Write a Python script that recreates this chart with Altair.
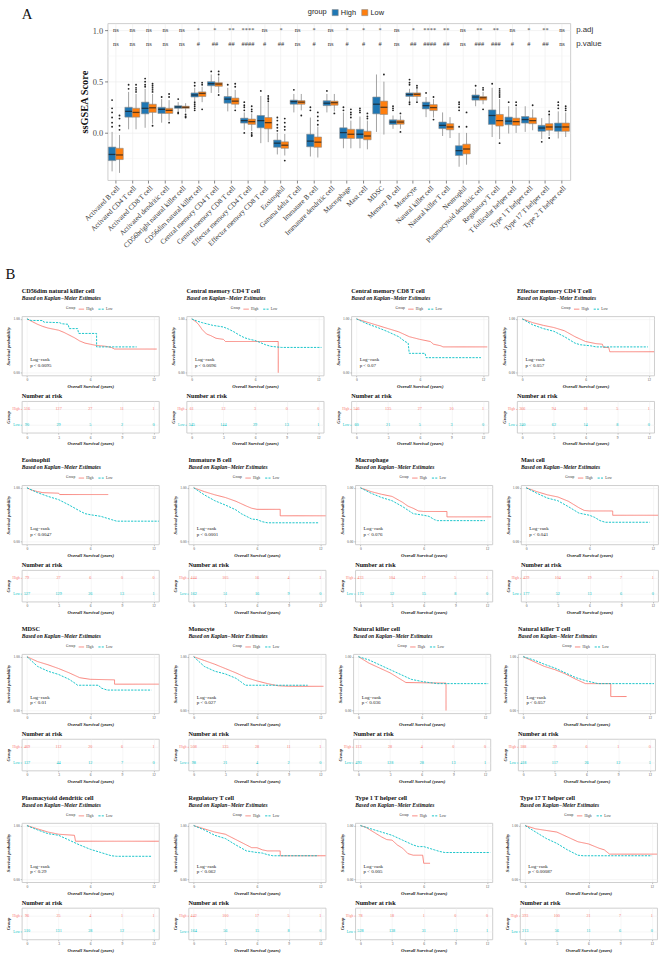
import altair as alt
import pandas as pd

SERIF = "Liberation Serif"
SANS = "Liberation Sans"
BLUE, ORANGE = "#1F77B4", "#FF7F0E"
RED, CYAN = "#F8766D", "#00BFC4"

# ---------------- Panel A: ssGSEA scores by risk group ----------------
cells = ["Activated B cell", "Activated CD4 T cell", "Activated CD8 T cell",
         "Activated dendritic cell", "CD56bright natural killer cell",
         "CD56dim natural killer cell", "Central memory CD4 T cell",
         "Central memory CD8 T cell", "Effector memory CD4 T cell",
         "Effector memory CD8 T cell", "Eosinophil", "Gamma delta T cell",
         "Immature B cell", "Immature dendritic cell", "Macrophage", "Mast cell",
         "MDSC", "Memory B cell", "Monocyte", "Natural killer cell",
         "Natural killer T cell", "Neutrophil", "Plasmacytoid dendritic cell",
         "Regulatory T cell", "T follicular helper cell", "Type 1 T helper cell",
         "Type 17 T helper cell", "Type 2 T helper cell"]

high_q3 = [-0.138, 0.25, 0.30, 0.25, 0.265, 0.39, 0.50, 0.355, 0.144, 0.17, -0.07, 0.32, -0.013, 0.314,
           0.05, 0.035, 0.35, 0.128, 0.39, 0.30, 0.106, -0.125, 0.37, 0.224, 0.154, 0.16, 0.074, 0.096]
high_med = [-0.21, 0.21, 0.24, 0.23, 0.253, 0.37, 0.48, 0.33, 0.12, 0.12, -0.10, 0.305, -0.08, 0.29,
            0.003, -0.013, 0.28, 0.106, 0.375, 0.266, 0.074, -0.173, 0.35, 0.17, 0.115, 0.13, 0.048, 0.058]
high_q1 = [-0.27, 0.154, 0.186, 0.19, 0.24, 0.35, 0.46, 0.29, 0.096, 0.05, -0.14, 0.28, -0.135, 0.266,
           -0.054, -0.054, 0.186, 0.083, 0.356, 0.234, 0.042, -0.22, 0.32, 0.083, 0.08, 0.096, 0.016, 0.016]
high_hi = [0.01, 0.40, 0.43, 0.33, 0.30, 0.44, 0.57, 0.44, 0.20, 0.36, 0.0, 0.38, 0.15, 0.38,
           0.20, 0.16, 0.57, 0.17, 0.43, 0.35, 0.20, 0.0, 0.43, 0.44, 0.26, 0.26, 0.144, 0.21]
high_lo = [-0.375, 0.035, 0.05, 0.10, 0.21, 0.31, 0.39, 0.21, 0.03, -0.10, -0.21, 0.20, -0.23, 0.20,
           -0.15, -0.15, 0.01, 0.04, 0.31, 0.154, -0.03, -0.33, 0.26, -0.04, -0.006, 0.01, -0.06, -0.054]

low_q3 = [-0.15, 0.24, 0.28, 0.24, 0.26, 0.40, 0.49, 0.34, 0.135, 0.15, -0.087, 0.315, -0.04, 0.31,
          0.035, 0.016, 0.31, 0.125, 0.39, 0.276, 0.09, -0.11, 0.355, 0.18, 0.144, 0.147, 0.09, 0.096]
low_med = [-0.215, 0.20, 0.245, 0.22, 0.25, 0.385, 0.477, 0.31, 0.11, 0.10, -0.12, 0.30, -0.09, 0.295,
           -0.013, -0.03, 0.25, 0.106, 0.377, 0.247, 0.058, -0.157, 0.343, 0.12, 0.11, 0.12, 0.058, 0.058]
low_q1 = [-0.26, 0.154, 0.20, 0.19, 0.24, 0.355, 0.455, 0.28, 0.083, 0.04, -0.15, 0.28, -0.14, 0.27,
          -0.054, -0.067, 0.18, 0.085, 0.356, 0.218, 0.03, -0.205, 0.32, 0.067, 0.074, 0.09, 0.026, 0.016]
low_hi = [-0.02, 0.38, 0.38, 0.32, 0.29, 0.45, 0.55, 0.42, 0.19, 0.30, -0.01, 0.38, 0.06, 0.38,
          0.12, 0.12, 0.50, 0.17, 0.43, 0.33, 0.154, 0.0, 0.40, 0.33, 0.25, 0.23, 0.17, 0.20]
low_lo = [-0.39, 0.035, 0.09, 0.12, 0.20, 0.30, 0.39, 0.24, 0.02, -0.09, -0.22, 0.22, -0.24, 0.21,
          -0.15, -0.16, -0.016, 0.04, 0.31, 0.15, -0.05, -0.31, 0.28, -0.06, 0.0, 0.026, -0.03, -0.04]

high_out = [[0.32, 0.24, 0.2, 0.15, 0.1, 0.06], [0.47, 0.43], [0.53, 0.5, 0.47, 0.45], [0.35],
            [0.33, 0.2, 0.19], [0.49, 0.46, 0.3, 0.28, 0.26, 0.24, 0.22], [0.6], [0.47],
            [0.3, 0.27, 0.25, 0.22, 0.0], [0.41], [0.15, 0.12, 0.08, 0.05, 0.02], [0.42],
            [0.25, 0.22], [0.41], [0.25, 0.22], [0.24, 0.22, 0.2], [], [0.26, 0.24, 0.22],
            [0.52, 0.49, 0.47, 0.3, 0.28], [0.39], [], [0.3, 0.28, 0.25, 0.22, 0.06], [0.46],
            [0.48], [0.3], [], [-0.087], [0.3, 0.27, 0.24]]
low_out = [[0.17, 0.14, 0.07, 0.03], [0.47, 0.44, 0.42, 0.40], [0.48, 0.46, 0.44, 0.42, 0.40, 0.07],
           [0.38, 0.35, 0.1], [0.18, 0.16, 0.15], [0.49, 0.47, 0.23], [0.6, 0.57, 0.37],
           [0.48, 0.45, 0.22], [0.26, 0.23, 0.21, 0.0, -0.02, -0.03], [0.36, 0.34, 0.33, 0.31],
           [0.14, 0.1, 0.06, 0.03, -0.27], [0.17], [0.2, 0.16, 0.12, 0.08], [0.19],
           [0.23, 0.2, 0.18, 0.15], [0.19, 0.16, 0.14], [0.57], [0.19, 0.01], [0.46, 0.44, 0.3],
           [0.35, 0.13], [], [0.2, 0.06], [0.44, 0.42, 0.23], [0.43, 0.41, 0.39, 0.37, 0.35, -0.1],
           [0.3, 0.27], [0.27], [0.21, 0.18, -0.05], [0.26, 0.24, 0.22]]

p_adj = ["ns", "ns", "ns", "ns", "ns", "*", "*", "**", "****", "ns", "*", "ns", "*", "ns",
         "*", "*", "*", "ns", "*", "****", "**", "ns", "**", "**", "ns", "*", "**", "ns"]
p_value = ["ns", "ns", "ns", "ns", "ns", "#", "##", "##", "####", "#", "##", "ns", "#", "ns",
           "#", "#", "#", "ns", "##", "####", "##", "ns", "###", "###", "#", "#", "##", "ns"]
row_labels = ["p.adj", "p.value"]
row_levels = [1.0, 0.87]
minor_breaks = [-0.25, 0.25, 0.75]

# ---------------- Panel B: Kaplan-Meier curves (time, survival) ----------------
CD56DIM_HIGH = [(0, 1), (0.5, 0.95), (1, 0.9), (1.5, 0.86), (2, 0.83), (2.5, 0.81), (3, 0.79), (3.5, 0.75),
                (4, 0.7), (4.5, 0.65), (5, 0.59), (5.5, 0.55), (6, 0.53), (6.5, 0.51), (7, 0.5), (7.5, 0.49),
                (8, 0.47), (8.3, 0.44), (12.3, 0.44)]
CD56DIM_LOW = [(0, 1), (0.4, 0.97), (1.5, 0.97), (1.6, 0.94), (3.1, 0.93), (3.3, 0.91), (3.9, 0.9), (4.0, 0.82),
               (4.8, 0.82), (4.9, 0.73), (6.6, 0.73), (6.6, 0.48), (10.4, 0.48)]
CMCD4_HIGH = [(0, 1), (0.3, 0.96), (0.6, 0.91), (1, 0.8), (1.4, 0.72), (1.8, 0.69), (2.3, 0.64), (3.0, 0.62),
              (3.2, 0.58), (8.2, 0.58), (8.2, 0.0)]
CMCD4_LOW = [(0, 1), (0.5, 0.96), (1, 0.93), (2, 0.88), (3, 0.85), (3.5, 0.81), (4, 0.76), (4.5, 0.7), (5, 0.65),
             (5.5, 0.62), (6, 0.6), (6.5, 0.56), (7, 0.52), (7.5, 0.49), (8, 0.48), (8.5, 0.47), (12.3, 0.47)]
CMCD8_HIGH = [(0, 1), (1, 0.94), (2, 0.88), (3, 0.82), (4, 0.76), (5, 0.67), (6, 0.62), (6.5, 0.6), (7, 0.58),
              (7.3, 0.53), (8, 0.5), (8.2, 0.48), (12.4, 0.48)]
CMCD8_LOW = [(0, 1), (1, 0.91), (2, 0.84), (3, 0.76), (4, 0.67), (4.6, 0.58), (4.9, 0.55), (5.0, 0.36),
             (6.5, 0.36), (6.6, 0.28), (11.8, 0.28)]
EMCD4_HIGH = [(0, 1), (1, 0.93), (2, 0.88), (3, 0.84), (4, 0.78), (5, 0.67), (6, 0.58), (7, 0.54), (7.6, 0.53),
              (7.7, 0.47), (8.2, 0.47), (8.3, 0.39), (12.5, 0.39)]
EMCD4_LOW = [(0, 1), (1, 0.89), (2, 0.82), (3, 0.77), (4, 0.67), (5, 0.55), (5.5, 0.52), (6.5, 0.5), (7, 0.48),
             (11.9, 0.48)]
EOS_HIGH = [(0, 1), (0.4, 0.96), (1, 0.93), (1.5, 0.91), (3, 0.9), (3.1, 0.875), (7.7, 0.875)]
EOS_LOW = [(0, 1), (1, 0.91), (2, 0.84), (3, 0.78), (4, 0.68), (5, 0.57), (5.5, 0.52), (6, 0.5), (7, 0.47),
           (7.5, 0.44), (8, 0.41), (8.5, 0.38), (12.5, 0.38)]
IMMB_HIGH = [(0, 1), (1, 0.93), (2, 0.87), (3, 0.82), (4, 0.75), (5, 0.66), (5.5, 0.62), (6, 0.6), (8.2, 0.6),
             (8.2, 0.48), (12.5, 0.48)]
IMMB_LOW = [(0, 1), (1, 0.87), (2, 0.76), (3, 0.68), (4, 0.59), (4.5, 0.52), (5, 0.47), (5.5, 0.42), (6, 0.41),
            (6.5, 0.37), (7, 0.35), (11.8, 0.35)]
MAC_HIGH = [(0, 1), (1, 0.93), (2, 0.88), (3, 0.84), (4, 0.73), (4.5, 0.66), (5, 0.62), (5.5, 0.57), (6, 0.56),
            (8.2, 0.56), (8.2, 0.46), (12.4, 0.46)]
MAC_LOW = [(0, 1), (1, 0.9), (2, 0.82), (3, 0.76), (4, 0.65), (5, 0.52), (6, 0.49), (6.5, 0.47), (7, 0.41),
           (7.3, 0.39), (11.8, 0.39)]
MAST_HIGH = [(0, 1), (1, 0.93), (2, 0.87), (3, 0.83), (4, 0.75), (5, 0.63), (5.5, 0.58), (6, 0.57), (8.2, 0.57),
             (8.2, 0.49), (12.5, 0.49)]
MAST_LOW = [(0, 1), (1, 0.9), (2, 0.81), (3, 0.76), (4, 0.65), (5, 0.53), (6, 0.49), (6.5, 0.45), (7, 0.39),
            (7.5, 0.36), (11.7, 0.36)]
MDSC_HIGH = [(0, 1), (1, 0.91), (2, 0.85), (3, 0.78), (4, 0.7), (5, 0.61), (6, 0.58), (8.3, 0.57), (8.3, 0.49),
             (12.5, 0.49)]
MDSC_LOW = [(0, 1), (1, 0.82), (2, 0.73), (3, 0.67), (4, 0.58), (4.6, 0.5), (4.8, 0.47), (6.8, 0.47), (7.0, 0.42),
            (7.6, 0.38), (11.8, 0.38)]
MONO_HIGH = [(0, 1), (1, 0.93), (2, 0.86), (3, 0.78), (4, 0.7), (5, 0.61), (6, 0.55), (7, 0.5), (7.5, 0.48),
             (8, 0.46), (9, 0.45), (12.3, 0.45)]
MONO_LOW = [(0, 1), (1, 0.82), (2, 0.73), (3, 0.68), (4, 0.6), (4.5, 0.53), (4.9, 0.47), (10.8, 0.47)]
NK_HIGH = [(0, 1), (1, 0.88), (2, 0.79), (3, 0.7), (3.5, 0.64), (4, 0.58), (4.5, 0.52), (8.3, 0.51), (8.3, 0.0)]
NK_LOW = [(0, 1), (1, 0.94), (2, 0.85), (3, 0.76), (4, 0.67), (5, 0.58), (6, 0.54), (6.7, 0.52), (7.5, 0.5),
          (12.3, 0.5)]
NKT_HIGH = [(0, 1), (1, 0.91), (2, 0.82), (3, 0.76), (4, 0.68), (5, 0.58), (5.9, 0.5), (8.3, 0.5), (8.3, 0.26),
            (9.8, 0.26)]
NKT_LOW = [(0, 1), (1, 0.94), (2, 0.86), (3, 0.79), (4, 0.7), (5, 0.61), (6, 0.55), (7.1, 0.5), (12.4, 0.5)]
PDC_HIGH = [(0, 1), (1, 0.94), (2, 0.88), (3, 0.84), (4.5, 0.82), (4.6, 0.71), (12.5, 0.71)]
PDC_LOW = [(0, 1), (1, 0.92), (2, 0.85), (3, 0.82), (4, 0.73), (5, 0.64), (5.5, 0.6), (6, 0.56), (7, 0.5),
           (8, 0.44), (8.5, 0.43), (11.8, 0.43)]
TREG_HIGH = [(0, 1), (1, 0.94), (2, 0.88), (3, 0.84), (4, 0.74), (5, 0.64), (5.5, 0.59), (6, 0.59), (6.5, 0.55),
             (7, 0.53), (8.2, 0.53), (8.2, 0.44), (12.5, 0.44)]
TREG_LOW = [(0, 1), (1, 0.92), (2, 0.82), (3, 0.76), (4, 0.64), (5, 0.53), (6, 0.5), (6.5, 0.49), (7, 0.46),
            (7.5, 0.44), (11.8, 0.44)]
TH1_HIGH = [(0, 1), (0.5, 0.97), (1, 0.91), (1.5, 0.85), (2, 0.79), (2.5, 0.74), (3, 0.73), (3.5, 0.64),
            (4, 0.58), (4.5, 0.48), (5, 0.45), (5.9, 0.45), (6.0, 0.3), (6.6, 0.3)]
TH1_LOW = [(0, 1), (1, 0.94), (2, 0.88), (3, 0.82), (4, 0.73), (5, 0.64), (5.5, 0.61), (6, 0.61), (7, 0.55),
           (7.5, 0.52), (8, 0.5), (12.3, 0.5)]
TH17_HIGH = [(0, 1), (1, 0.94), (2, 0.91), (3, 0.88), (4, 0.79), (5, 0.7), (6, 0.66), (7, 0.58), (7.5, 0.55),
             (8, 0.47), (12.5, 0.47)]
TH17_LOW = [(0, 1), (1, 0.88), (2, 0.76), (3, 0.67), (4, 0.55), (5, 0.45), (5.5, 0.44), (12, 0.44)]

risk_times = [0, 3, 6, 9, 12]
km_panels = [
    ("CD56dim natural killer cell", CD56DIM_HIGH, CD56DIM_LOW, "p < 0.0095", [516, 127, 27, 11, 1], [90, 29, 5, 2, 0]),
    ("Central memory CD4 T cell", CMCD4_HIGH, CMCD4_LOW, "p < 0.0096", [61, 12, 3, 0, 0], [545, 144, 29, 13, 1]),
    ("Central memory CD8 T cell", CMCD8_HIGH, CMCD8_LOW, "p < 0.07", [546, 135, 27, 10, 1], [60, 21, 5, 3, 0]),
    ("Effector memory CD4 T cell", EMCD4_HIGH, EMCD4_LOW, "p < 0.057", [366, 94, 18, 5, 1], [240, 62, 14, 8, 0]),
    ("Eosinophil", EOS_HIGH, EOS_LOW, "p < 0.0047", [79, 27, 6, 0, 0], [527, 129, 26, 13, 1]),
    ("Immature B cell", IMMB_HIGH, IMMB_LOW, "p < 0.0001", [444, 105, 16, 4, 1], [162, 51, 16, 9, 0]),
    ("Macrophage", MAC_HIGH, MAC_LOW, "p < 0.076", [433, 104, 17, 5, 1], [173, 52, 15, 8, 0]),
    ("Mast cell", MAST_HIGH, MAST_LOW, "p < 0.041", [429, 104, 19, 7, 1], [177, 52, 13, 6, 0]),
    ("MDSC", MDSC_HIGH, MDSC_LOW, "p < 0.01", [469, 112, 20, 6, 1], [137, 44, 12, 7, 0]),
    ("Monocyte", MONO_HIGH, MONO_LOW, "p < 0.027", [508, 135, 28, 11, 1], [98, 21, 4, 2, 0]),
    ("Natural killer cell", NK_HIGH, NK_LOW, "p < 0.036", [113, 28, 4, 0, 0], [493, 128, 28, 13, 1]),
    ("Natural killer T cell", NKT_HIGH, NKT_LOW, "p < 0.057", [188, 39, 6, 1, 0], [418, 117, 26, 12, 1]),
    ("Plasmacytoid dendritic cell", PDC_HIGH, PDC_LOW, "p < 0.29", [96, 25, 4, 1, 1], [510, 131, 28, 12, 0]),
    ("Regulatory T cell", TREG_HIGH, TREG_LOW, "p < 0.062", [442, 100, 17, 5, 1], [164, 56, 15, 8, 0]),
    ("Type 1 T helper cell", TH1_HIGH, TH1_LOW, "p < 0.005", [78, 18, 1, 0, 0], [528, 138, 31, 13, 1]),
    ("Type 17 T helper cell", TH17_HIGH, TH17_LOW, "p < 0.00087", [393, 100, 21, 7, 1], [213, 56, 11, 6, 0]),
]

# ======================= Panel A =======================
box_rows, out_rows = [], []
for i, c in enumerate(cells):
    box_rows.append(dict(cell=c, group="High", q1=high_q1[i], med=high_med[i], q3=high_q3[i],
                         lo=high_lo[i], hi=high_hi[i]))
    box_rows.append(dict(cell=c, group="Low", q1=low_q1[i], med=low_med[i], q3=low_q3[i],
                         lo=low_lo[i], hi=low_hi[i]))
    for v in high_out[i]:
        out_rows.append(dict(cell=c, group="High", v=v))
    for v in low_out[i]:
        out_rows.append(dict(cell=c, group="Low", v=v))
box_df = pd.DataFrame(box_rows)
out_df = pd.DataFrame(out_rows)
ann_df = pd.DataFrame(
    [dict(cell=c, yv=row_levels[0], label=p_adj[i]) for i, c in enumerate(cells)] +
    [dict(cell=c, yv=row_levels[1], label=p_value[i]) for i, c in enumerate(cells)])
side_df = pd.DataFrame(dict(yv=row_levels, label=row_labels))
minor_df = pd.DataFrame(dict(yv=minor_breaks))

A_W, A_H = 469, 159
y_scale = alt.Scale(domain=[-0.46, 1.07], nice=False, zero=False)
x_enc = alt.X("cell:N", sort=cells, title=None,
              scale=alt.Scale(paddingInner=0.1, paddingOuter=0.05),
              axis=alt.Axis(labelAngle=-45, labelAlign="right", labelBaseline="top",
                            labelFont=SERIF, labelFontSize=7.2, labelColor="#333333",
                            labelLimit=300, labelPadding=1, tickSize=3, tickColor="#333333",
                            tickWidth=0.6, domain=False, grid=True, gridColor="#EBEBEB",
                            gridWidth=0.6))
xo_enc = alt.XOffset("group:N", sort=["High", "Low"], scale=alt.Scale(paddingInner=0.0))
y_axis = alt.Axis(values=[0, 0.5, 1.0], format=".1f", title="ssGSEA Score",
                  titleFont=SERIF, titleFontSize=10.5, titleFontWeight="bold", titleColor="#111",
                  titlePadding=3, labelFont=SERIF, labelFontSize=8.5, labelColor="#4D4D4D",
                  tickSize=3, tickColor="#333333", tickWidth=0.6, labelPadding=2, domain=False,
                  grid=True, gridColor="#EBEBEB", gridWidth=0.6)

minor = alt.Chart(minor_df).mark_rule(color="#F3F3F3", strokeWidth=0.5).encode(
    y=alt.Y("yv:Q", scale=y_scale, axis=y_axis))
whisk = alt.Chart(box_df).mark_rule(color="#8A8A8A", strokeWidth=0.8).encode(
    x=x_enc, xOffset=xo_enc, y=alt.Y("lo:Q", scale=y_scale), y2="hi:Q")
boxes = alt.Chart(box_df).mark_bar(stroke="#8A8A8A", strokeWidth=0.6).encode(
    x=x_enc, xOffset=xo_enc, y=alt.Y("q1:Q", scale=y_scale), y2="q3:Q",
    color=alt.Color("group:N", scale=alt.Scale(domain=["High", "Low"], range=[BLUE, ORANGE]),
                    legend=alt.Legend(title="group", orient="none", legendX=290, legendY=-15,
                                      direction="horizontal", titleOrient="left",
                                      titleFont=SANS, titleFontSize=7.5, titleFontWeight="normal",
                                      titleColor="#222", labelFont=SANS, labelFontSize=7.5,
                                      labelColor="#222", symbolType="square", symbolSize=38,
                                      symbolStrokeColor="#8A8A8A", symbolStrokeWidth=0.6,
                                      columnPadding=4, titlePadding=4, labelOffset=2, padding=0)))
medians = alt.Chart(box_df).mark_tick(color="#1A1A1A", thickness=1.3, size=7).encode(
    x=x_enc, xOffset=xo_enc, y=alt.Y("med:Q", scale=y_scale))
outs = alt.Chart(out_df).mark_circle(size=3.5, color="#222222", opacity=1).encode(
    x=x_enc, xOffset=xo_enc, y=alt.Y("v:Q", scale=y_scale))
ann = alt.Chart(ann_df).mark_text(font=SERIF, fontSize=6.5, color="#333333").encode(
    x=x_enc, y=alt.Y("yv:Q", scale=y_scale), text="label:N")
side = alt.Chart(side_df).mark_text(font=SANS, fontSize=8, color="#333333", align="left").encode(
    x=alt.value(A_W + 6), y=alt.Y("yv:Q", scale=y_scale), text="label:N")

panel_a = alt.layer(minor, whisk, boxes, medians, outs, ann, side).properties(width=A_W, height=A_H)

# left margin column of panel A, carrying the panel letter
tag_a = alt.Chart(pd.DataFrame(dict(label=["A"]))).mark_text(
    font=SERIF, fontSize=15, color="#111", align="left", baseline="top").encode(
    x=alt.value(0), y=alt.value(-16), text="label:N").properties(
    width=56, height=1, view=alt.ViewBackground(stroke="transparent"))
row_a = alt.hconcat(tag_a, panel_a, spacing=0)

# ======================= Panel B =======================
KM_W, KM_H, RISK_H = 139, 60, 32
km_x_scale = alt.Scale(domain=[-0.5, 12.5], nice=False, zero=False)
group_color = alt.Scale(domain=["High", "Low"], range=[RED, CYAN])
lab_col = {"condition": {"test": "datum.value === 'High'", "value": RED}, "value": CYAN}


def km_x_axis():
    return alt.Axis(values=risk_times, format="d", title="Overall Survival (years)",
                    titleFont=SERIF, titleFontSize=4.8, titleFontWeight="bold",
                    titleFontStyle="italic", titleColor="#222", titlePadding=2,
                    labelFont=SERIF, labelFontSize=3.6, labelColor="#555", labelPadding=1,
                    tickSize=1.5, tickColor="#888", tickWidth=0.5, domain=False,
                    grid=True, gridColor="#EDEDED", gridWidth=0.5)


def km_legend():
    return alt.Legend(title="Group", orient="none", legendX=45, legendY=-11,
                      direction="horizontal", titleOrient="left", titleFont=SERIF,
                      titleFontSize=3.6, titleFontWeight="normal", titleColor="#333",
                      labelFont=SERIF, labelFontSize=3.6, labelColor="#333",
                      symbolType="stroke", symbolSize=30, symbolStrokeWidth=0.9,
                      columnPadding=2, titlePadding=2, labelOffset=1.5, padding=0)


def own_legends(ch):
    return ch.resolve_legend(color="independent", strokeDash="independent")


def km_cell(name, high, low, ptxt, risk_high, risk_low):
    rows = [dict(group="High", t=t, s=s, k=j) for j, (t, s) in enumerate(high)]
    rows += [dict(group="Low", t=t, s=s, k=j) for j, (t, s) in enumerate(low)]
    cdf = pd.DataFrame(rows)
    lines = alt.Chart(cdf).mark_line(strokeWidth=0.9).encode(
        x=alt.X("t:Q", scale=km_x_scale, axis=km_x_axis()),
        y=alt.Y("s:Q", scale=alt.Scale(domain=[-0.05, 1.05], nice=False, zero=False),
                axis=alt.Axis(values=[0, 0.25, 0.5, 0.75, 1.0], format=".2f",
                              title="Survival probability", titleFont=SERIF, titleFontSize=4.8,
                              titleFontWeight="bold", titleFontStyle="italic", titleColor="#222",
                              titlePadding=2, labelFont=SERIF, labelFontSize=3.6,
                              labelColor="#555", labelPadding=1, tickSize=1.5, tickColor="#888",
                              tickWidth=0.5, domain=False, grid=True, gridColor="#EDEDED",
                              gridWidth=0.5, minExtent=9, maxExtent=9)),
        color=alt.Color("group:N", scale=group_color, legend=km_legend()),
        strokeDash=alt.StrokeDash("group:N",
                                  scale=alt.Scale(domain=["High", "Low"], range=[[1, 0], [2.2, 1.2]]),
                                  legend=km_legend()),
        order="k:Q")
    logrank = alt.Chart(pd.DataFrame(dict(t=[0.3], s=[0.25], label=["Log−rank\n" + ptxt]))).mark_text(
        font=SERIF, fontSize=5, color="#222", align="left", baseline="middle", lineBreak="\n",
        lineHeight=5.5).encode(x="t:Q", y="s:Q", text="label:N")
    surv = alt.layer(lines, logrank).properties(
        width=KM_W, height=KM_H,
        title=alt.TitleParams(name, subtitle="Based on Kaplan−Meier Estimates", anchor="start",
                              frame="group", font=SERIF, fontSize=6.3, fontWeight="bold",
                              color="#111", subtitleFont=SERIF, subtitleFontSize=5.6,
                              subtitleFontStyle="italic", subtitleFontWeight="bold",
                              subtitleColor="#111", subtitlePadding=1.5, offset=4))

    rdf = pd.DataFrame(dict(group=["High"] * 5 + ["Low"] * 5, t=risk_times * 2, n=risk_high + risk_low))
    risk = alt.Chart(rdf).mark_text(font=SERIF, fontSize=4.2).encode(
        x=alt.X("t:Q", scale=km_x_scale, axis=km_x_axis()),
        y=alt.Y("group:N", scale=alt.Scale(type="point", domain=["High", "Low"], padding=0.5),
                axis=alt.Axis(title="Group", titleFont=SERIF, titleFontSize=4.8,
                              titleFontWeight="bold", titleFontStyle="italic", titleColor="#222",
                              titlePadding=2, labelFont=SERIF, labelFontSize=3.6,
                              labelColor=lab_col, tickColor=lab_col, labelPadding=1,
                              tickSize=1.5, tickWidth=0.5, domain=False, grid=True,
                              gridColor="#EDEDED", gridWidth=0.5, minExtent=9, maxExtent=9)),
        text="n:Q",
        color=alt.Color("group:N", scale=group_color, legend=None)).properties(
        width=KM_W, height=RISK_H,
        title=alt.TitleParams("Number at risk", anchor="start", frame="group", font=SERIF,
                              fontSize=6.3, fontWeight="bold", color="#111", offset=2))
    return own_legends(alt.vconcat(surv, risk, spacing=3))


km_rows = []
for r in range(4):
    km_rows.append(own_legends(alt.hconcat(*[km_cell(*km_panels[4 * r + c]) for c in range(4)],
                                           spacing=10)))
block_b = own_legends(alt.vconcat(*km_rows, spacing=10.2)).properties(
    title=alt.TitleParams("B", anchor="start", font=SERIF, fontSize=15, fontWeight="normal",
                          color="#111", offset=6))

chart = alt.vconcat(row_a, block_b, spacing=18).resolve_scale(
    color="independent", strokeDash="independent"
).resolve_legend(color="independent", strokeDash="independent").properties(
    padding={"left": 5, "top": 0, "right": 0, "bottom": 0}, background="white"
).configure_view(stroke="#C9C9C9", strokeWidth=0.9)

chart.save("out.html", embed_options={"renderer": "svg", "actions": False})
